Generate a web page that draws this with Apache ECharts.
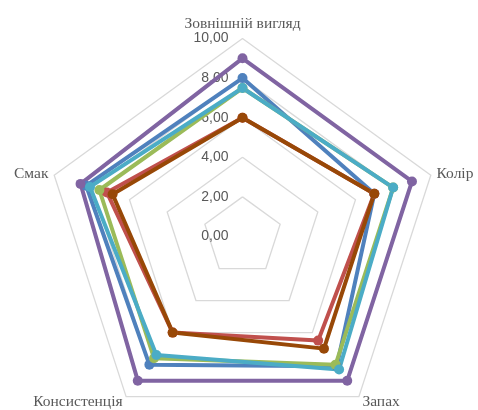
<!DOCTYPE html>
<html>
<head>
<meta charset="utf-8">
<script src="https://cdn.jsdelivr.net/npm/echarts@6/dist/echarts.min.js"></script>
<style>
  html, body { margin: 0; padding: 0; background: #fff; }
  #chart { width: 478px; height: 410px; }
</style>
</head>
<body>
<div id="chart"></div>
<script>
// axes, clockwise from the top
var indicators = ['Зовнішній вигляд', 'Колір', 'Запах', 'Консистенція', 'Смак']

// values, same order as indicators
var series1 = [8.0, 7.0, 8.1, 8.0, 8.3]   // blue
var series2 = [6.0, 7.0, 6.5, 6.0, 7.2]   // red
var series3 = [7.5, 8.0, 8.0, 7.6, 7.6]   // green
var series4 = [9.0, 9.0, 9.0, 9.0, 8.6]   // purple
var series5 = [7.5, 8.0, 8.3, 7.4, 8.1]   // teal
var series6 = [6.0, 7.0, 7.0, 6.0, 6.9]   // brown

var colors = ['#4F81BD', '#C0504D', '#9BBB59', '#8064A2', '#4BACC6', '#984807']

var chart = echarts.init(document.getElementById('chart'))

var allSeries = [series1, series2, series3, series4, series5, series6]

// echarts radar goes counter-clockwise, so flip the order after the first axis
var order = [0, 4, 3, 2, 1]
function reorder(arr) {
  return order.map(function(k) { return arr[k] })
}

var option = {
  backgroundColor: '#fff',
  animation: false,
  radar: {
    center: [242.5, 236.5],
    radius: 198,
    startAngle: 90,
    shape: 'polygon',
    splitNumber: 5,
    nameGap: 6,
    axisName: {
      color: '#595959',
      fontFamily: 'Liberation Serif',
      fontSize: 15.5
    },
    axisLine: { show: false },
    axisTick: { show: false },
    splitArea: { show: false },
    splitLine: {
      lineStyle: { color: '#D9D9D9', width: 1.3 }
    },
    axisLabel: {
      show: true,
      color: '#595959',
      fontFamily: 'Liberation Sans',
      fontSize: 14,
      margin: 14,
      formatter: function(v) {
        return v.toFixed(2).replace('.', ',')
      }
    },
    indicator: reorder(indicators).map(function(name, i) {
      var ind = { name: name, min: 0, max: 10 }
      if (i > 0) {
        ind.axisLabel = { show: false }
      }
      return ind
    })
  },
  series: [
    {
      type: 'radar',
      symbol: 'circle',
      symbolSize: 10,
      data: allSeries.map(function(vals, i) {
        return {
          value: reorder(vals),
          name: 'Зразок ' + (i + 1),
          lineStyle: { color: colors[i], width: 4 },
          itemStyle: { color: colors[i] }
        }
      })
    }
  ]
}

chart.setOption(option)
</script>
</body>
</html>
